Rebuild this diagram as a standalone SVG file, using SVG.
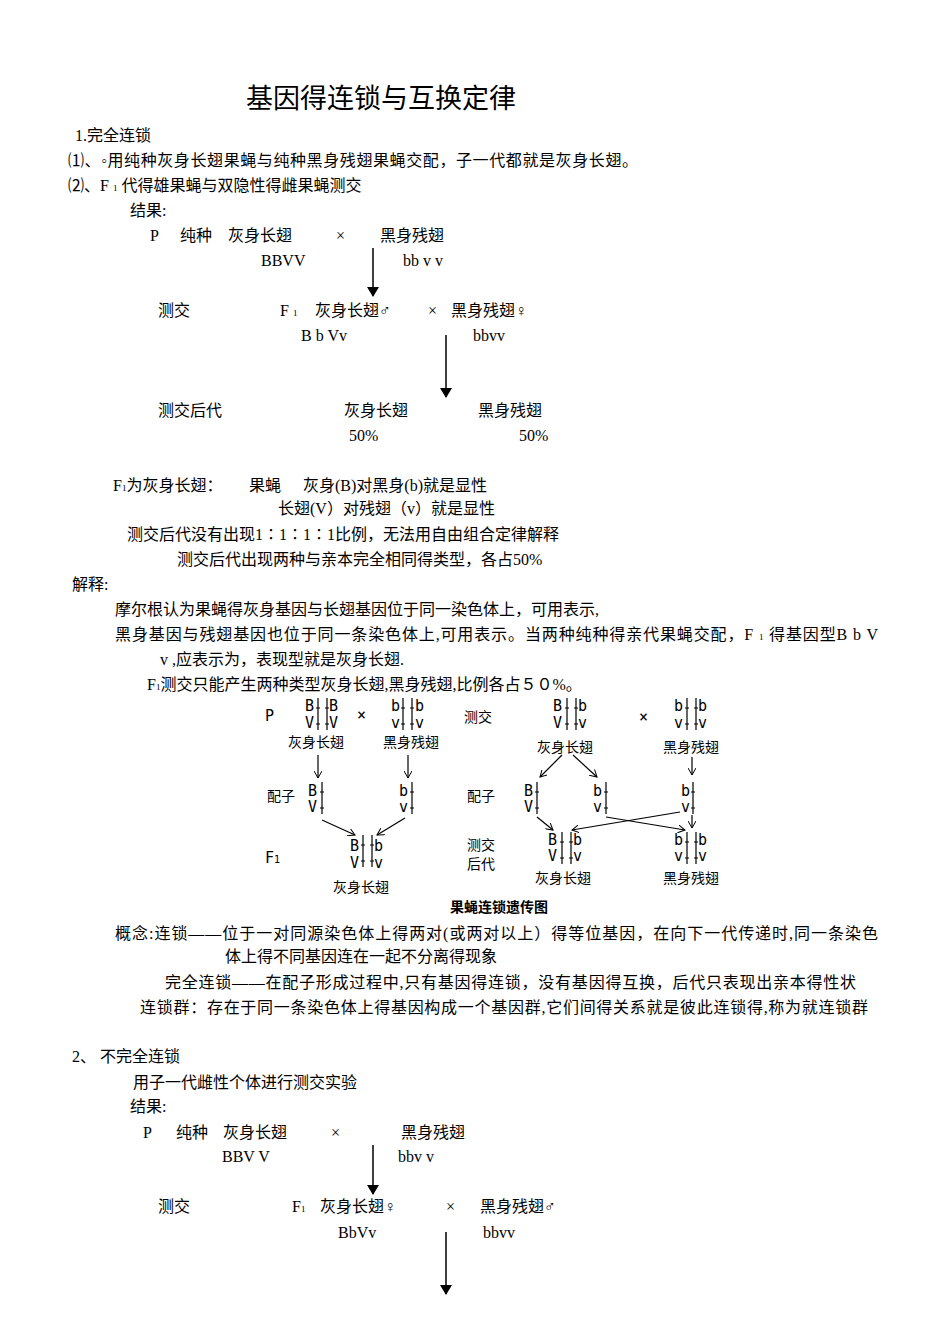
<svg xmlns="http://www.w3.org/2000/svg" xmlns:xlink="http://www.w3.org/1999/xlink" width="950" height="1344" viewBox="0 0 950 1344">
<style>
text{font-family:"Liberation Serif","Noto Sans CJK SC",serif;font-size:16px;fill:#000}
.t{font-size:27px}
.s{font-size:9px}
.f text{font-family:"DejaVu Sans Mono","Noto Sans CJK SC",monospace;font-size:15px}
.f .c{font-family:"Noto Sans CJK SC",sans-serif;font-size:14px}
.f .cap{font-family:"Noto Sans CJK SC",sans-serif;font-size:14px;font-weight:bold}
.ln{stroke:#000;stroke-width:1.2;fill:none}
.ar{stroke:#000;stroke-width:1.5;fill:none}
</style>
<defs>
<marker id="m" markerWidth="10" markerHeight="14" refX="9" refY="7" orient="auto" markerUnits="userSpaceOnUse"><path d="M0,1 L10,7 L0,13 Z" fill="#000"/></marker>
<marker id="s" markerWidth="8" markerHeight="8" refX="7" refY="4" orient="auto" markerUnits="userSpaceOnUse"><path d="M0,0 L7,4 L0,8" fill="none" stroke="#000" stroke-width="1"/></marker>
<g id="pair"><path class="ln" d="M0,0V32M9,0V32M-2,10H2M-2,26H2M7,10H11M7,26H11"/></g>
<g id="one"><path class="ln" d="M0,0V32M-2,10H2M-2,26H2"/></g>
</defs>
<rect width="950" height="1344" fill="#fff"/>
<g id="text1">
<text class="t" x="246" y="108">基因得连锁与互换定律</text>
<text x="75" y="141">1.完全连锁</text>
<text x="68" y="166" textLength="570" lengthAdjust="spacing">⑴、◦用纯种灰身长翅果蝇与纯种黑身残翅果蝇交配，子一代都就是灰身长翅。</text>
<text x="68" y="191">⑵、F <tspan class="s">1</tspan> 代得雄果蝇与双隐性得雌果蝇测交</text>
<text x="130" y="216">结果:</text>
<text x="150" y="241">P</text><text x="180" y="241">纯种</text><text x="228" y="241">灰身长翅</text><text x="336" y="241">×</text><text x="380" y="241">黑身残翅</text>
<text x="261" y="266">BBVV</text><text x="403" y="266">bb v v</text>
<text x="158" y="316">测交</text><text x="280" y="316">F <tspan class="s">1</tspan></text><text x="315" y="316">灰身长翅♂</text><text x="428" y="316">×</text><text x="451" y="316">黑身残翅♀</text>
<text x="301" y="341">B b Vv</text><text x="473" y="341">bbvv</text>
<text x="158" y="416">测交后代</text><text x="344" y="416">灰身长翅</text><text x="478" y="416">黑身残翅</text>
<text x="349" y="441">50%</text><text x="519" y="441">50%</text>
<text x="113" y="491">F<tspan class="s">1</tspan>为灰身长翅：</text><text x="249" y="491">果蝇</text><text x="303" y="491">灰身(B)对黑身(b)就是显性</text>
<text x="278" y="514">长翅(V）对残翅（v）就是显性</text>
<text x="127" y="540">测交后代没有出现1∶1∶1∶1比例，无法用自由组合定律解释</text>
<text x="177" y="565">测交后代出现两种与亲本完全相同得类型，各占50%</text>
<text x="72" y="590">解释:</text>
<text x="115" y="615">摩尔根认为果蝇得灰身基因与长翅基因位于同一染色体上，可用表示,</text>
<text x="115" y="640" textLength="763" lengthAdjust="spacing">黑身基因与残翅基因也位于同一条染色体上,可用表示。当两种纯种得亲代果蝇交配，F <tspan class="s">1</tspan> 得基因型B b V</text>
<text x="160" y="665">v ,应表示为，表现型就是灰身长翅.</text>
<text x="147" y="690">F<tspan class="s">1</tspan>测交只能产生两种类型灰身长翅,黑身残翅,比例各占５０%。</text>
</g>
<g id="figure" class="f">
<text x="265" y="721">P</text>
<use xlink:href="#pair" x="318" y="698"/><text x="305" y="711">B</text><text x="305" y="728">V</text><text x="329" y="711">B</text><text x="329" y="728">V</text>
<text class="c" x="288" y="747">灰身长翅</text>
<text x="357" y="720">×</text>
<use xlink:href="#pair" x="403" y="698"/><text x="391" y="711">b</text><text x="391" y="728">v</text><text x="415" y="711">b</text><text x="415" y="728">v</text>
<text class="c" x="383" y="747">黑身残翅</text>
<text class="c" x="267" y="801">配子</text>
<use xlink:href="#one" x="322" y="782"/><text x="308" y="796">B</text><text x="308" y="812">V</text>
<use xlink:href="#one" x="412" y="782"/><text x="399" y="796">b</text><text x="399" y="812">v</text>
<text x="265" y="863">F<tspan font-size="10">1</tspan></text>
<use xlink:href="#pair" x="363" y="835"/><text x="350" y="851">B</text><text x="350" y="868">V</text><text x="374" y="851">b</text><text x="374" y="868">v</text>
<text class="c" x="333" y="892">灰身长翅</text>
<text class="c" x="464" y="722">测交</text>
<use xlink:href="#pair" x="567" y="698"/><text x="553" y="711">B</text><text x="553" y="728">V</text><text x="578" y="711">b</text><text x="578" y="728">v</text>
<text class="c" x="537" y="752">灰身长翅</text>
<text x="639" y="722">×</text>
<use xlink:href="#pair" x="687" y="698"/><text x="674" y="711">b</text><text x="674" y="728">v</text><text x="698" y="711">b</text><text x="698" y="728">v</text>
<text class="c" x="663" y="752">黑身残翅</text>
<text class="c" x="467" y="801">配子</text>
<use xlink:href="#one" x="537" y="782"/><text x="524" y="796">B</text><text x="524" y="812">V</text>
<use xlink:href="#one" x="606" y="782"/><text x="593" y="796">b</text><text x="593" y="812">v</text>
<use xlink:href="#one" x="693" y="782"/><text x="681" y="796">b</text><text x="681" y="812">v</text>
<text class="c" x="467" y="850">测交</text><text class="c" x="467" y="869">后代</text>
<use xlink:href="#pair" x="562" y="832"/><text x="548" y="845">B</text><text x="548" y="861">V</text><text x="573" y="845">b</text><text x="573" y="861">v</text>
<use xlink:href="#pair" x="687" y="832"/><text x="674" y="845">b</text><text x="674" y="861">v</text><text x="698" y="845">b</text><text x="698" y="861">v</text>
<text class="c" x="535" y="883">灰身长翅</text>
<text class="c" x="663" y="883">黑身残翅</text>
<text class="cap" x="450" y="912">果蝇连锁遗传图</text>
</g>
<g id="connectors">
<path class="ar" d="M373,248V296" marker-end="url(#m)"/>
<path class="ar" d="M446,335V397" marker-end="url(#m)"/>
<path class="ar" d="M373,1145V1194" marker-end="url(#m)"/>
<path class="ar" d="M446,1232V1294" marker-end="url(#m)"/>
<path class="ln" d="M318,755V778" marker-end="url(#s)"/>
<path class="ln" d="M408,755V778" marker-end="url(#s)"/>
<path class="ln" d="M322,820L355,835" marker-end="url(#s)"/>
<path class="ln" d="M405,818L377,835" marker-end="url(#s)"/>
<path class="ln" d="M562,755L540,777" marker-end="url(#s)"/>
<path class="ln" d="M573,755L597,777" marker-end="url(#s)"/>
<path class="ln" d="M692,757V775" marker-end="url(#s)"/>
<path class="ln" d="M537,817L553,830" marker-end="url(#s)"/>
<path class="ln" d="M606,817L685,830" marker-end="url(#s)"/>
<path class="ln" d="M680,812L572,830" marker-end="url(#s)"/>
<path class="ln" d="M692,815V828" marker-end="url(#s)"/>
</g>
<g id="text2">
<text x="115" y="939" textLength="763" lengthAdjust="spacing">概念:连锁——位于一对同源染色体上得两对(或两对以上）得等位基因，在向下一代传递时,同一条染色</text>
<text x="225" y="962">体上得不同基因连在一起不分离得现象</text>
<text x="165" y="988" textLength="691" lengthAdjust="spacing">完全连锁——在配子形成过程中,只有基因得连锁，没有基因得互换，后代只表现出亲本得性状</text>
<text x="140" y="1013" textLength="728" lengthAdjust="spacing">连锁群：存在于同一条染色体上得基因构成一个基因群,它们间得关系就是彼此连锁得,称为就连锁群</text>
<text x="72" y="1062">2、 不完全连锁</text>
<text x="133" y="1088">用子一代雌性个体进行测交实验</text>
<text x="130" y="1112">结果:</text>
<text x="143" y="1138">P</text><text x="176" y="1138">纯种</text><text x="223" y="1138">灰身长翅</text><text x="331" y="1138">×</text><text x="401" y="1138">黑身残翅</text>
<text x="222" y="1162">BBV V</text><text x="398" y="1162">bbv v</text>
<text x="158" y="1212">测交</text><text x="292" y="1212">F<tspan class="s">1</tspan></text><text x="320" y="1212">灰身长翅♀</text><text x="446" y="1212">×</text><text x="480" y="1212">黑身残翅♂</text>
<text x="338" y="1238">BbVv</text><text x="483" y="1238">bbvv</text>
</g>
</svg>
